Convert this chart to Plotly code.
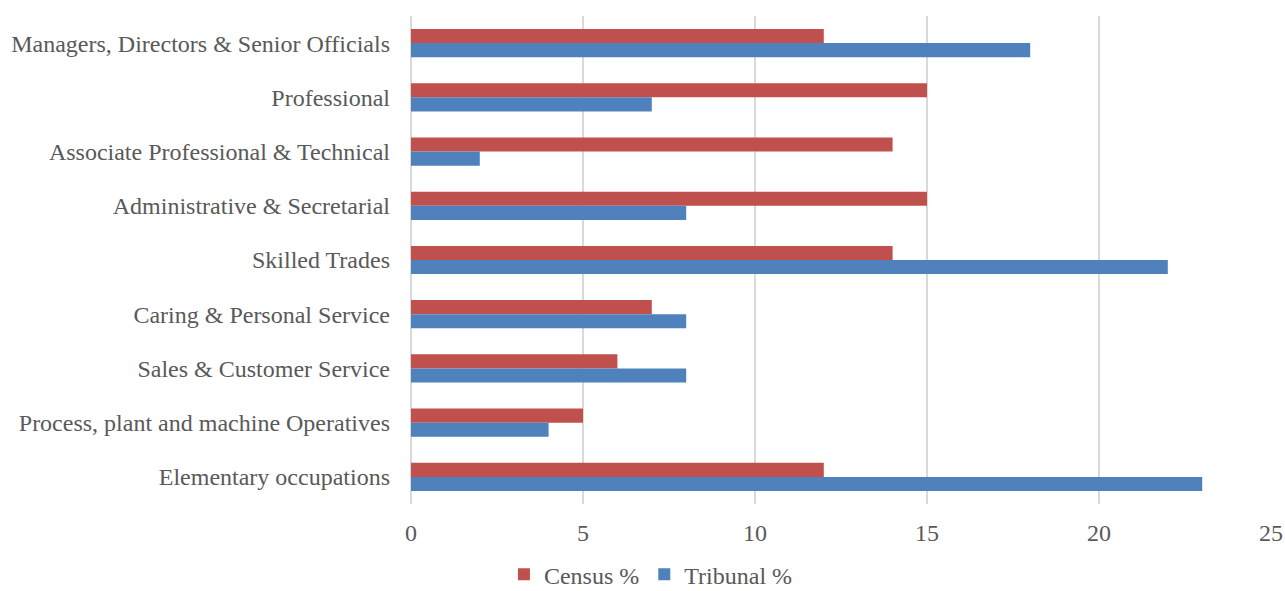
import plotly.graph_objects as go

categories = [
    "Managers, Directors & Senior Officials",
    "Professional",
    "Associate Professional & Technical",
    "Administrative & Secretarial",
    "Skilled Trades",
    "Caring & Personal Service",
    "Sales & Customer Service",
    "Process, plant and machine Operatives",
    "Elementary occupations",
]
census = [12, 15, 14, 15, 14, 7, 6, 5, 12]
tribunal = [18, 7, 2, 8, 22, 8, 8, 4, 23]
x_ticks = [0, 5, 10, 15, 20, 25]

font = "Liberation Serif, Times New Roman, serif"

fig = go.Figure()
fig.add_trace(go.Bar(y=categories, x=census, name="Census %", orientation="h",
                     marker=dict(color="#C0504D", line=dict(width=0))))
fig.add_trace(go.Bar(y=categories, x=tribunal, name="Tribunal %", orientation="h",
                     marker=dict(color="#4F81BD", line=dict(width=0))))

fig.update_layout(
    width=1285, height=591,
    margin=dict(l=411, r=14, t=16, b=87, autoexpand=False),
    barmode="group", bargap=0.48, bargroupgap=0,
    plot_bgcolor="white", paper_bgcolor="white",
    font=dict(family=font, size=24, color="#595959"),
    legend=dict(orientation="h", x=0.279, xanchor="center", y=-0.145, yanchor="middle",
                font=dict(size=24, color="#595959"), itemwidth=30, traceorder="normal"),
    xaxis=dict(range=[0, 25], tickvals=x_ticks, showgrid=True, gridcolor="#D9D9D9",
               gridwidth=1.5, zeroline=True, zerolinecolor="#D9D9D9", zerolinewidth=1.5,
               showline=False, ticks="", ticklabelstandoff=12,
               tickfont=dict(size=24, color="#595959")),
    yaxis=dict(autorange="reversed", showgrid=False, zeroline=False, showline=False,
               ticks="", ticklabelstandoff=20, tickfont=dict(size=24, color="#595959")),
)

fig.write_html("out.html")
